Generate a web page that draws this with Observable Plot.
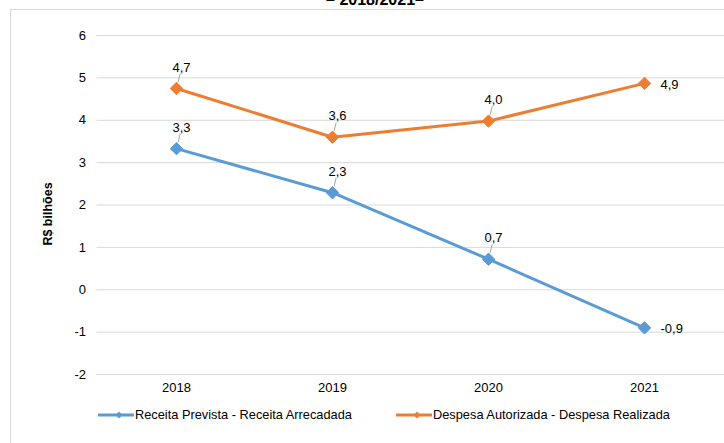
<!DOCTYPE html>
<html>
<head>
<meta charset="utf-8">
<script src="https://cdn.jsdelivr.net/npm/d3@7"></script>
<script src="https://cdn.jsdelivr.net/npm/@observablehq/plot@0.6"></script>
<style>
  html, body { margin: 0; padding: 0; background: #fff; overflow: hidden; }
  body { width: 724px; height: 443px; position: relative; font-family: Arial, "Liberation Sans", sans-serif; }
  #frame { position: absolute; left: 10px; top: 9px; width: 800px; height: 500px; border: 1px solid #d9d9d9; box-sizing: border-box; }
  #title { position: absolute; top: -8px; left: 0; width: 750px; text-align: center; font-weight: bold; font-size: 16px; line-height: 16px; color: #000; }
  #chart { position: absolute; left: 0; top: 0; }
  #ytitle { position: absolute; left: 48px; top: 214px; transform: translate(-50%, -50%) rotate(-90deg); font-weight: bold; font-size: 12.5px; white-space: nowrap; color: #000; }
  #legend { position: absolute; top: 407px; left: 0; width: 724px; height: 20px; font-size: 12.8px; color: #000; }
  .item { position: absolute; display: flex; align-items: center; white-space: nowrap; }
  .item svg { display: block; margin-right: 1px; }
</style>
</head>
<body>
<div id="frame"></div>
<div id="title">– 2018/2021–</div>
<div id="chart"></div>
<div id="ytitle"></div>
<div id="legend"></div>
<script>
const years = ["2018", "2019", "2020", "2021"];
const receita = [3.33, 2.29, 0.72, -0.9];
const despesa = [4.75, 3.60, 3.98, 4.87];
const receitaLabels = ["3,3", "2,3", "0,7", "-0,9"];
const despesaLabels = ["4,7", "3,6", "4,0", "4,9"];
const seriesNames = ["Receita Prevista - Receita Arrecadada", "Despesa Autorizada - Despesa Realizada"];
const seriesColors = ["#5B9BD5", "#ED7D31"];
const yTicks = [-2, -1, 0, 1, 2, 3, 4, 5, 6];
const yTitle = "R$ bilhões";

document.getElementById("ytitle").textContent = yTitle;

const rows = [];
years.forEach((yr, i) => {
  rows.push({year: yr, value: receita[i], label: receitaLabels[i], series: seriesNames[0], last: i === years.length - 1});
  rows.push({year: yr, value: despesa[i], label: despesaLabels[i], series: seriesNames[1], last: i === years.length - 1});
});

const leader = {
  draw(context, l) { context.moveTo(0, -7); context.lineTo(0, -l); }
};

const chart = Plot.plot({
  width: 724,
  height: 400,
  marginLeft: 96.5,
  marginRight: 0,
  marginTop: 35,
  marginBottom: 26,
  style: {fontFamily: "Arial, 'Liberation Sans', sans-serif", fontSize: "13px", color: "#000", background: "transparent"},
  x: {type: "point", domain: years, padding: 0.5, label: null},
  y: {domain: [-2, 6], label: null},
  color: {domain: seriesNames, range: seriesColors},
  marks: [
    Plot.gridY(yTicks, {stroke: "#d9d9d9", strokeOpacity: 1, strokeWidth: 1}),
    Plot.axisY(yTicks, {tickSize: 0, tickPadding: 11, tickFormat: d => String(d), label: null, fontSize: 13}),
    Plot.axisX({tickSize: 0, tickPadding: 8, label: null, fontSize: 13}),
    Plot.line(rows, {x: "year", y: "value", z: "series", stroke: "series", strokeWidth: 3}),
    Plot.vector(rows.filter(d => !d.last), {x: "year", y: "value", length: 15, rotate: 14, anchor: "start", shape: leader, stroke: "#a6a6a6", strokeWidth: 1}),
    Plot.dot(rows, {x: "year", y: "value", symbol: "diamond2", r: 5.6, fill: "series", stroke: "series", strokeWidth: 1}),
    Plot.text(rows.filter(d => !d.last), {x: "year", y: "value", text: "label", dx: 5, dy: -21, fill: "#000", fontSize: 13}),
    Plot.text(rows.filter(d => d.last), {x: "year", y: "value", text: "label", dx: 16, dy: 1, textAnchor: "start", fill: "#000", fontSize: 13})
  ]
});
document.getElementById("chart").appendChild(chart);

const legend = document.getElementById("legend");
const lefts = [98, 396];
seriesNames.forEach((name, i) => {
  const item = document.createElement("div");
  item.className = "item";
  item.style.left = lefts[i] + "px";
  const c = seriesColors[i];
  item.innerHTML = `<svg width="36" height="12"><line x1="0" y1="6" x2="36" y2="6" stroke="${c}" stroke-width="3"/><path d="M21,2.5L24.5,6L21,9.5L17.5,6Z" fill="${c}"/></svg><span>${name}</span>`;
  legend.appendChild(item);
});
</script>
</body>
</html>
